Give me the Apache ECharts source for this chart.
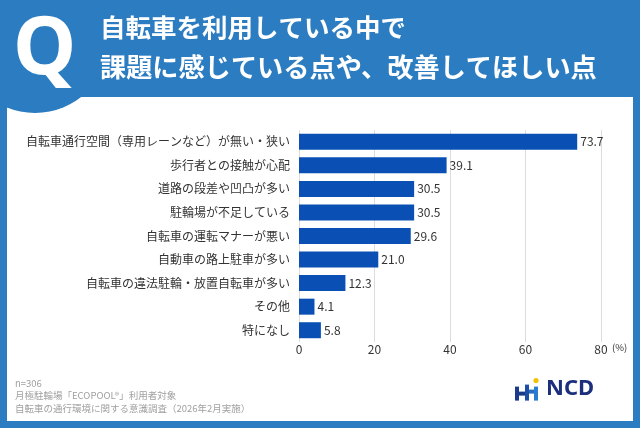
<!DOCTYPE html>
<html><head><meta charset="utf-8">
<script src="https://cdn.jsdelivr.net/npm/echarts@6/dist/echarts.min.js"></script>
<style>html,body{margin:0;padding:0;background:#2b7cc0;}#c{width:640px;height:428px;}</style>
</head><body><div id="c"></div>
<script>
const categories = ['自転車通行空間（専用レーンなど）が無い・狭い','歩行者との接触が心配','道路の段差や凹凸が多い','駐輪場が不足している','自転車の運転マナーが悪い','自動車の路上駐車が多い','自転車の違法駐輪・放置自転車が多い','その他','特になし'];
const values = [73.7, 39.1, 30.5, 30.5, 29.6, 21.0, 12.3, 4.1, 5.8];
const titleLines = ['自転車を利用している中で','課題に感じている点や、改善してほしい点'];
const footerLines = ['n=306','月極駐輪場「ECOPOOL®」利用者対象','自転車の通行環境に関する意識調査（2026年2月実施）'];
const xTicks = [0, 20, 40, 60, 80];
const unitLabel = '(%)';

const font = '"Noto Sans CJK JP","Noto Sans",sans-serif';
const chart = echarts.init(document.getElementById('c'), null, {renderer:'canvas'});
chart.setOption({
  backgroundColor: '#2b7cc0',
  animation: false,
  textStyle: {fontFamily: font},
  graphic: [
    {type:'rect', shape:{x:7,y:97,width:626,height:324}, style:{fill:'#ffffff'}, z:0},
    {type:'circle', shape:{cx:35,cy:38,r:75}, style:{fill:'#2b7cc0'}, z:1},
    {type:'text', left:13, top:11, style:{text:'Q', fill:'#ffffff', font:'bold 80px "Noto Sans", sans-serif'}, z:2},
    {type:'text', left:100, top:15, style:{text:titleLines[0], fill:'#ffffff', font:'bold 25.5px '+font}, z:2},
    {type:'text', left:100, top:54, style:{text:titleLines[1], fill:'#ffffff', font:'bold 26.2px '+font}, z:2},
    {type:'text', left:15, top:377, style:{text:footerLines.join('\n'), fill:'#a0a0a0', font:'9.5px '+font, lineHeight:12.5}, z:2},
    {type:'text', left:612, top:343, style:{text:unitLabel, fill:'#333', font:'9.5px '+font}, z:3},
    {type:'group', left:515, top:378, z:3, children:[
      {type:'rect', shape:{x:0,y:8,width:4,height:14}, style:{fill:'#1a3a8a'}},
      {type:'rect', shape:{x:4,y:13,width:6,height:4}, style:{fill:'#1a3a8a'}},
      {type:'rect', shape:{x:10,y:6,width:4,height:16}, style:{fill:'#1d4fa8'}},
      {type:'rect', shape:{x:14,y:11,width:5,height:4}, style:{fill:'#2a6cc4'}},
      {type:'rect', shape:{x:19,y:8,width:4,height:14}, style:{fill:'#2a7cd0'}},
      {type:'circle', shape:{cx:21,cy:2,r:2.6}, style:{fill:'#f2c200'}}
    ]},
    {type:'text', left:546, top:378, style:{text:'NCD', fill:'#1b2f7d', font:'bold 22px "Noto Sans", sans-serif'}, z:3}
  ],
  grid: {left:299, right:39, top:130, height:212, containLabel:false},
  xAxis: {
    type:'value', min:xTicks[0], max:xTicks[xTicks.length-1], interval:xTicks[1]-xTicks[0],
    axisLine:{show:false}, axisTick:{show:false},
    axisLabel:{color:'#333', fontSize:12, margin:1, fontFamily:font},
    splitLine:{lineStyle:{color:'#dcdcdc', width:1}}
  },
  yAxis: {
    type:'category', data:categories, inverse:true,
    axisLine:{show:false}, axisTick:{show:false},
    axisLabel:{color:'#333', fontSize:12, margin:9, fontFamily:font}
  },
  series: [{
    type:'bar', data:values, barWidth:16,
    itemStyle:{color:'#0a50b4'},
    label:{show:true, position:'right', distance:3, color:'#333', fontSize:12, fontFamily:font,
      formatter: p => p.value.toFixed(1)}
  }]
});
</script></body></html>
